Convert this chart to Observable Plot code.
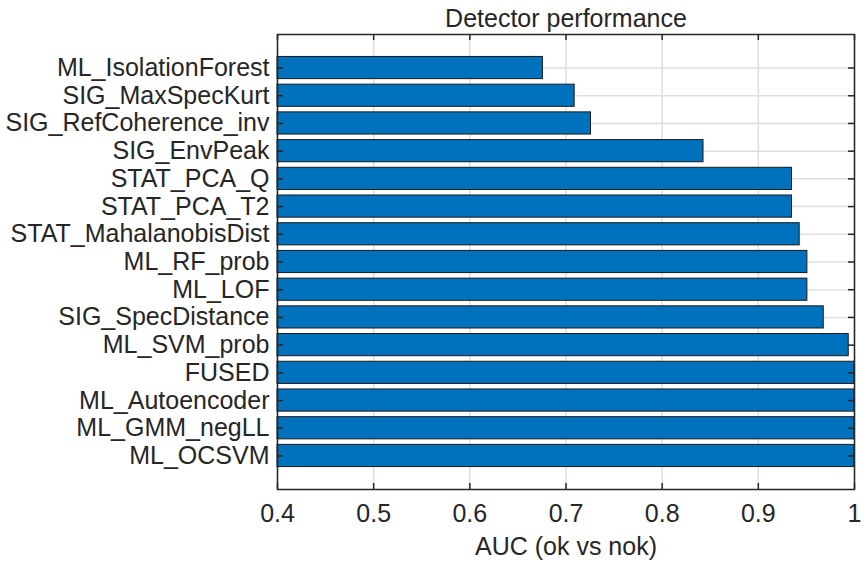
<!DOCTYPE html>
<html><head><meta charset="utf-8">
<script src="https://cdn.jsdelivr.net/npm/d3@7"></script>
<script src="https://cdn.jsdelivr.net/npm/@observablehq/plot@0.6"></script>
<style>body{margin:0;background:#fff;}</style>
</head><body><div id="chart"></div>
<script>
const detectors = ["ML_IsolationForest","SIG_MaxSpecKurt","SIG_RefCoherence_inv","SIG_EnvPeak","STAT_PCA_Q","STAT_PCA_T2","STAT_MahalanobisDist","ML_RF_prob","ML_LOF","SIG_SpecDistance","ML_SVM_prob","FUSED","ML_Autoencoder","ML_GMM_negLL","ML_OCSVM"];
const auc = [0.676, 0.709, 0.726, 0.843, 0.935, 0.935, 0.943, 0.951, 0.951, 0.968, 0.994, 1, 1, 1, 1];
const xDomain = [0.4, 1];
const xTicks = [0.4, 0.5, 0.6, 0.7, 0.8, 0.9, 1];
const xTickLabels = ["0.4","0.5","0.6","0.7","0.8","0.9","1"];
const title = "Detector performance";
const xLabel = "AUC (ok vs nok)";

const data = detectors.map((d, i) => ({detector: d, auc: auc[i], base: xDomain[0]}));
const W = 866, H = 565, mT = 34, mB = 76, mL = 277, mR = 12;
const innerW = W - mL - mR, innerH = H - mT - mB;
const tickLen = 6;
const ink = "#262626";
const gridColor = "#dedede";
const fs = 25;

const plot = Plot.plot({
  width: W, height: H,
  marginTop: mT, marginBottom: mB, marginLeft: mL, marginRight: mR,
  style: {fontFamily: "'Liberation Sans', Arial, sans-serif", fontSize: fs + "px", color: ink, background: "#fff"},
  x: {domain: xDomain},
  y: {domain: detectors, paddingInner: 0.2, paddingOuter: 0.81, round: false},
  marks: [
    Plot.ruleX(xTicks, {stroke: gridColor, strokeWidth: 1.5}),
    Plot.ruleY(detectors, {stroke: gridColor, strokeWidth: 1.5}),
    Plot.barX(data, {y: "detector", x1: "base", x2: "auc", fill: "#0072BD", stroke: "#1a1a1a", strokeWidth: 1}),
    Plot.ruleX(xTicks, {stroke: ink, strokeWidth: 1.5, insetTop: innerH - tickLen}),
    Plot.ruleX(xTicks, {stroke: ink, strokeWidth: 1.5, insetBottom: innerH - tickLen}),
    Plot.ruleY(detectors, {stroke: ink, strokeWidth: 1.5, insetRight: innerW - tickLen}),
    Plot.ruleY(detectors, {stroke: ink, strokeWidth: 1.5, insetLeft: innerW - tickLen}),
    Plot.frame({stroke: ink, strokeWidth: 1.5}),
    Plot.axisX(xTicks, {tickSize: 0, tickPadding: 15, label: null, fontSize: fs, tickFormat: d => xTickLabels[xTicks.indexOf(d)]}),
    Plot.axisY({tickSize: 0, tickPadding: 8, label: null, fontSize: fs}),
    Plot.text([title], {frameAnchor: "top", lineAnchor: "middle", dy: -16, fontSize: fs, fill: ink}),
    Plot.text([xLabel], {frameAnchor: "bottom", lineAnchor: "middle", dy: 57, fontSize: fs, fill: ink})
  ]
});
document.getElementById("chart").append(plot);
</script>
</body></html>
